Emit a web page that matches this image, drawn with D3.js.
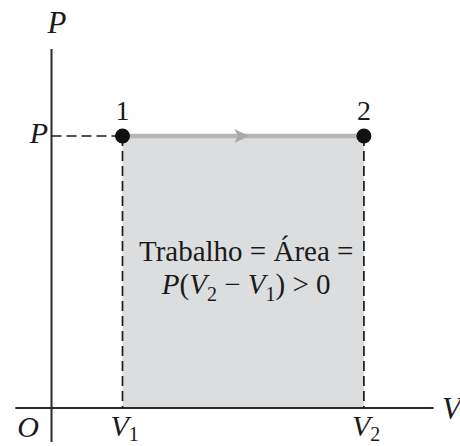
<!DOCTYPE html>
<html>
<head>
<meta charset="utf-8">
<script src="https://cdn.jsdelivr.net/npm/d3@7"></script>
<style>
  html, body { margin: 0; padding: 0; background: #fff; }
  svg { display: block; }
  text { font-family: "Liberation Serif", "Times New Roman", serif; fill: #1a1a1a; }
</style>
</head>
<body>
<svg id="chart" width="460" height="446"></svg>
<script>
// Isobaric process: states 1 and 2 at the same pressure
const states = [
  { id: "1", V: 1.0, P: 1.0 },
  { id: "2", V: 4.4, P: 1.0 }
];
const volumeTicks = [
  { V: 1.0, label: "V", sub: "1" },
  { V: 4.4, label: "V", sub: "2" }
];
const pressureTicks = [{ P: 1.0, label: "P" }];
const areaLabelLines = ["Trabalho = Área =", "P(V₂ − V₁) > 0"];

const svg = d3.select("#chart");

const x = d3.scaleLinear().domain([0, 1]).range([51.5, 122.5]);
const y = d3.scaleLinear().domain([0, 1]).range([408, 136]);

const xAxisDomain = [-0.51, 5.38];
const yAxisDomain = [-0.125, 1.32];

// Shaded area under the path (the work)
svg.append("rect")
  .attr("x", x(states[0].V))
  .attr("y", y(states[0].P))
  .attr("width", x(states[1].V) - x(states[0].V))
  .attr("height", y(0) - y(states[0].P))
  .attr("fill", "#dcdddf");

// Axes
svg.append("line")
  .attr("x1", x(xAxisDomain[0])).attr("x2", x(xAxisDomain[1]))
  .attr("y1", y(0)).attr("y2", y(0))
  .attr("stroke", "#2a2a2a").attr("stroke-width", 2);
svg.append("line")
  .attr("x1", x(0)).attr("x2", x(0))
  .attr("y1", y(yAxisDomain[0])).attr("y2", y(yAxisDomain[1]))
  .attr("stroke", "#2a2a2a").attr("stroke-width", 2);

// Dashed guide lines
const dash = "10,5";
svg.append("line")
  .attr("x1", x(0)).attr("x2", x(states[0].V))
  .attr("y1", y(states[0].P)).attr("y2", y(states[0].P))
  .attr("stroke", "#1a1a1a").attr("stroke-width", 1.7)
  .attr("stroke-dasharray", dash);
svg.selectAll("line.vguide")
  .data(states)
  .join("line")
  .attr("class", "vguide")
  .attr("x1", d => x(d.V)).attr("x2", d => x(d.V))
  .attr("y1", d => y(d.P)).attr("y2", y(0))
  .attr("stroke", "#1a1a1a").attr("stroke-width", 1.7)
  .attr("stroke-dasharray", dash);

// Process path 1 -> 2
svg.append("line")
  .attr("x1", x(states[0].V)).attr("x2", x(states[1].V))
  .attr("y1", y(states[0].P)).attr("y2", y(states[1].P))
  .attr("stroke", "#b6b6b6").attr("stroke-width", 4.5);

// Direction arrow at the middle of the path
const midV = (states[0].V + states[1].V) / 2;
const ax = x(midV) + 6, ay = y(states[0].P);
svg.append("path")
  .attr("d", `M${ax},${ay} L${ax - 15},${ay - 7} L${ax - 11},${ay} L${ax - 15},${ay + 7} Z`)
  .attr("fill", "#a9a9a9");

// State points
svg.selectAll("circle.state")
  .data(states)
  .join("circle")
  .attr("class", "state")
  .attr("cx", d => x(d.V)).attr("cy", d => y(d.P))
  .attr("r", 7.5)
  .attr("fill", "#111");

svg.selectAll("text.stateLabel")
  .data(states)
  .join("text")
  .attr("class", "stateLabel")
  .attr("x", d => x(d.V)).attr("y", d => y(d.P) - 16)
  .attr("text-anchor", "middle")
  .attr("font-size", 28)
  .text(d => d.id);

// Axis titles
svg.append("text")
  .attr("x", 57).attr("y", 33)
  .attr("text-anchor", "middle")
  .attr("font-size", 31).attr("font-style", "italic")
  .text("P");
svg.append("text")
  .attr("x", 442).attr("y", 419)
  .attr("font-size", 31).attr("font-style", "italic")
  .text("V");
svg.append("text")
  .attr("x", 28).attr("y", 437)
  .attr("text-anchor", "middle")
  .attr("font-size", 30).attr("font-style", "italic")
  .text("O");

// Pressure tick label
svg.selectAll("text.pTick")
  .data(pressureTicks)
  .join("text")
  .attr("class", "pTick")
  .attr("x", 48).attr("y", d => y(d.P) + 7)
  .attr("text-anchor", "end")
  .attr("font-size", 30).attr("font-style", "italic")
  .text(d => d.label);

// Volume tick labels with subscripts
const vt = svg.selectAll("text.vTick")
  .data(volumeTicks)
  .join("text")
  .attr("class", "vTick")
  .attr("x", d => x(d.V) - 12).attr("y", 436)
  .attr("font-size", 30);
vt.append("tspan").attr("font-style", "italic").text(d => d.label);
vt.append("tspan").attr("font-size", 20).attr("dy", 5).text(d => d.sub);

// Area annotation
const cx = (x(states[0].V) + x(states[1].V)) / 2 + 3;
const t1 = svg.append("text")
  .attr("x", cx).attr("y", 261)
  .attr("text-anchor", "middle")
  .attr("font-size", 29)
  .text(areaLabelLines[0]);
const t2 = svg.append("text")
  .attr("x", cx).attr("y", 294)
  .attr("text-anchor", "middle")
  .attr("font-size", 29);
t2.append("tspan").attr("font-style", "italic").text("P");
t2.append("tspan").text("(");
t2.append("tspan").attr("font-style", "italic").text("V");
t2.append("tspan").attr("font-size", 20).attr("dy", 7).text("2");
t2.append("tspan").attr("dy", -7).text(" − ");
t2.append("tspan").attr("font-style", "italic").text("V");
t2.append("tspan").attr("font-size", 20).attr("dy", 7).text("1");
t2.append("tspan").attr("dy", -7).text(") > 0");
</script>
</body>
</html>
